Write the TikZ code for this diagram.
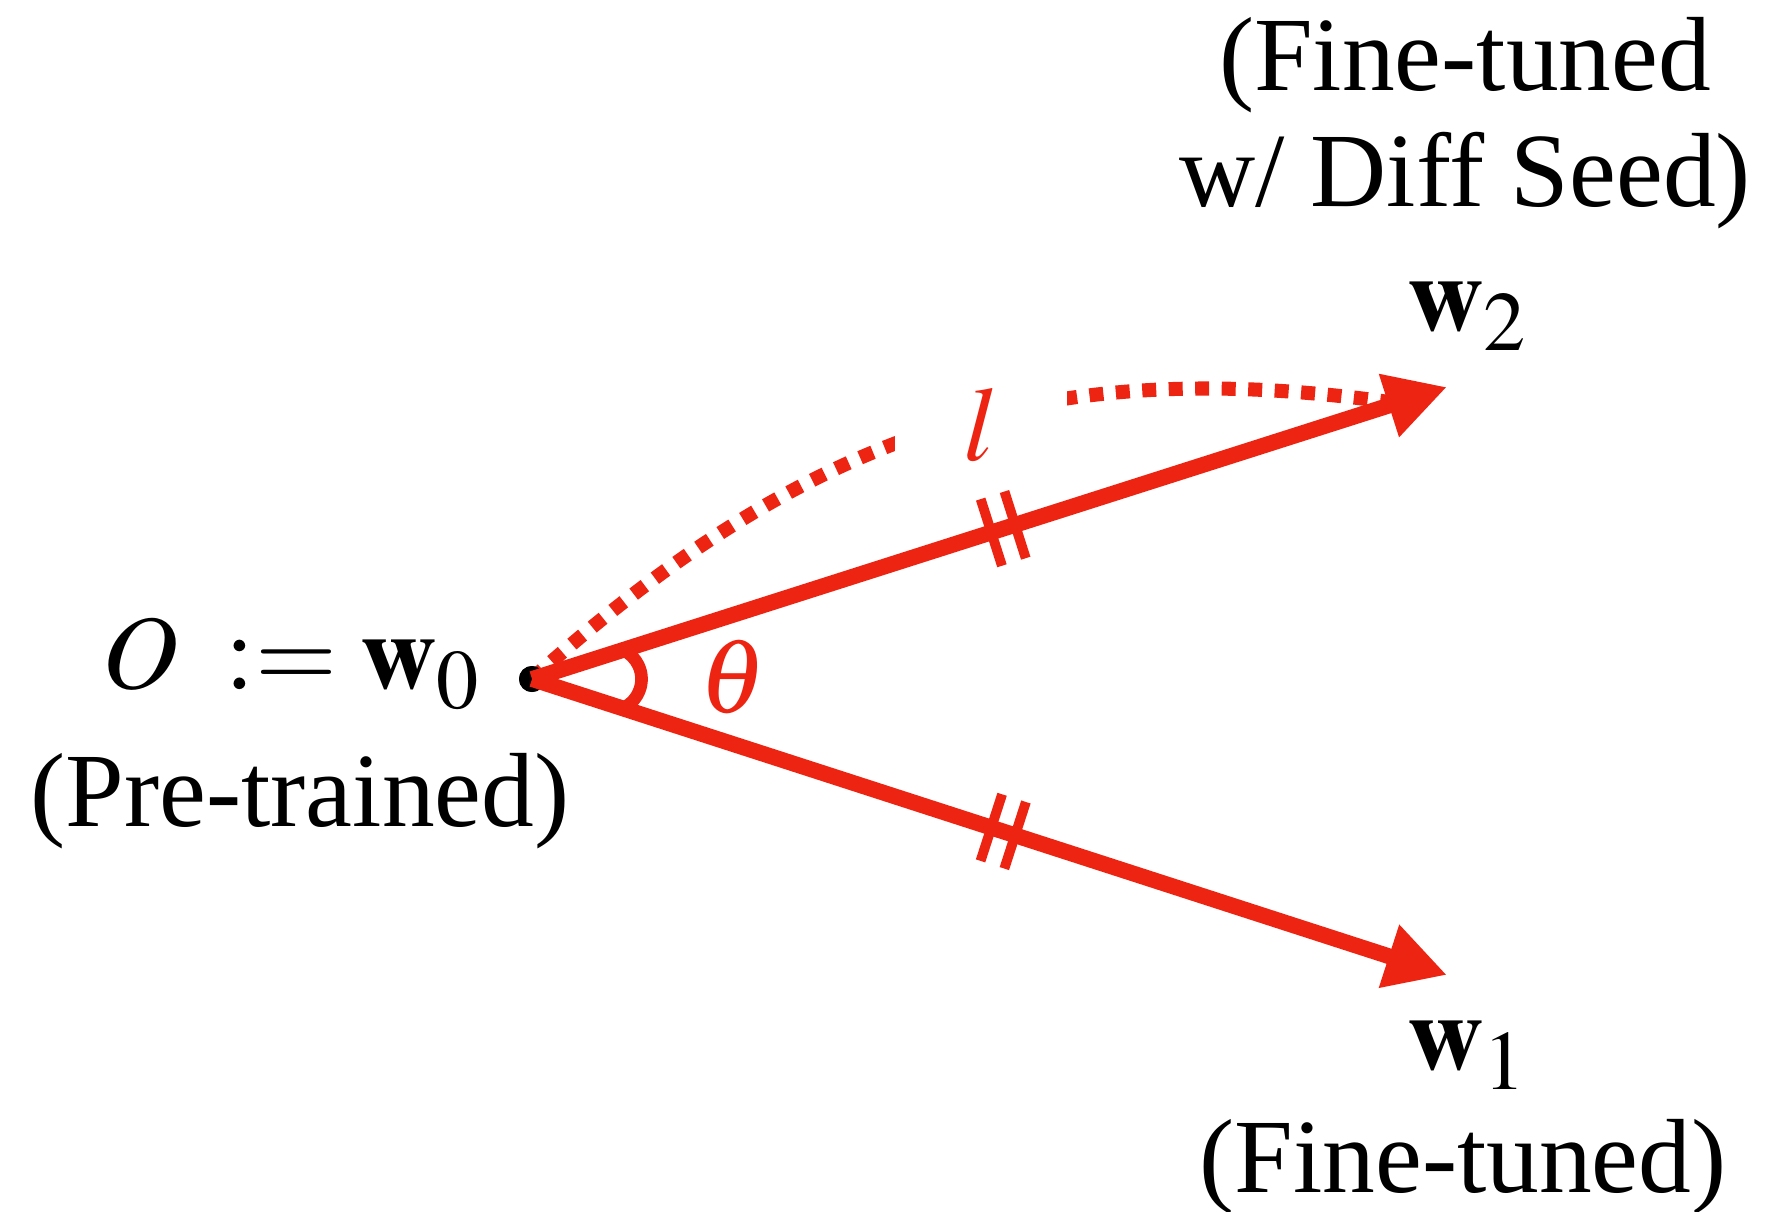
\documentclass[tikz,border=0pt]{standalone}
\usepackage{mathptmx}
\usepackage{fontspec}
\setmainfont{Liberation Serif}
\usetikzlibrary{arrows.meta,calc,decorations.markings}
\DeclareMathSizes{30}{30}{24}{18}
\definecolor{vred}{HTML}{EE2412}
\definecolor{vink}{HTML}{000000}
\tikzset{
  txt/.style={inner sep=0pt,text=vink,font=\fontsize{30}{33}\selectfont},
  redtxt/.style={txt,text=vred},
  origin/.style={circle,fill=vink,inner sep=0pt,minimum size=2.6mm},
  hash/.style={-,draw=vred,line width=2.8pt},
  vec/.style={draw=vred,line width=4.5pt,-{Triangle[length=6.1mm,width=6.2mm]},
    postaction={decorate},
    decoration={markings,
      mark=at position .502 with {\draw[hash] (0,-3.5mm)--(0,3.5mm);},
      mark=at position .528 with {\draw[hash] (0,-3.5mm)--(0,3.5mm);}}},
  seedpath/.style={draw=vred,line width=4pt,dash pattern=on 1.4mm off 1.25mm},
  gap/.style={redtxt,fill=white,minimum width=1.72cm,minimum height=.7cm},
  anglemark/.style={draw=vred,line width=3.6pt},
}
\begin{document}
\begin{tikzpicture}
  \useasboundingbox (0,0) rectangle (17.68,12.11);
  \node[origin] (O) at (5.32,5.32) {};
  \coordinate (t1) at (14.47,2.36);
  \coordinate (t2) at (14.47,8.24);
  \coordinate (s2) at (14.30,8.03);
  % length along the second run
  \draw[seedpath] (O.center) .. controls +(42:4.1) and +(171:3.5) .. (s2);
  \node[gap] (len) at (9.81,7.86) {$l$};
  \node[origin] at (O) {};
  \draw[vec] (O.center) -- (t2);
  \draw[vec] (O.center) -- (t1);
  \draw[anglemark] ($(O)+(.775,0)+(-65:.32)$) arc[start angle=-65,end angle=65,radius=.32];
  \node[redtxt] (theta) at (7.33,5.34) {$\theta$};
  % labels
  \node[txt,anchor=base west] (o) at (1.02,5.23) {$O \mathrel{\;:=} \mathbf{w}_0$};
  \node[txt,anchor=base] (pre) at (3.0,3.85) {(Pre-trained)};
  \node[txt,anchor=base west] (w2) at (14.07,8.81) {$\mathbf{w}_2$};
  \node[txt,anchor=base west] (w1) at (14.07,1.42) {$\mathbf{w}_1$};
  \node[txt,anchor=base] (ft1) at (14.63,0.19) {(Fine-tuned)};
  \node[txt,anchor=base,align=center] (ft2) at (14.65,10.05) {(Fine-tuned\\w/ Diff Seed)};
\end{tikzpicture}
\end{document}
